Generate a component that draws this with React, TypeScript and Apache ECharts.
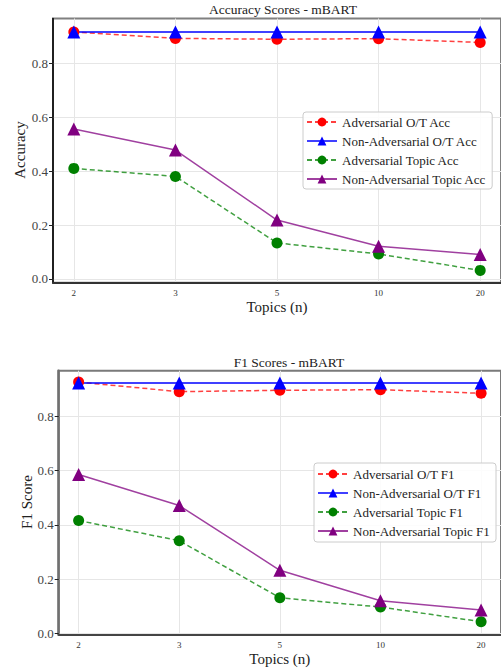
import React, { useEffect, useRef } from "react";
import * as echarts from "echarts";

const topicLabels = ["2", "3", "5", "10", "20"];
const tickValuesY = [0, 0.2, 0.4, 0.6, 0.8];

const accAdvOT = [0.918, 0.894, 0.891, 0.893, 0.879];
const accNonAdvOT = [0.918, 0.918, 0.918, 0.918, 0.918];
const accAdvTopic = [0.411, 0.381, 0.134, 0.093, 0.032];
const accNonAdvTopic = [0.557, 0.479, 0.219, 0.122, 0.091];

const f1AdvOT = [0.925, 0.89, 0.895, 0.897, 0.884];
const f1NonAdvOT = [0.922, 0.922, 0.922, 0.922, 0.922];
const f1AdvTopic = [0.416, 0.342, 0.132, 0.098, 0.044];
const f1NonAdvTopic = [0.585, 0.471, 0.233, 0.121, 0.087];

const FONT = "'Liberation Serif', 'DejaVu Serif', serif";

const toPts = (arr: number[]) => arr.map((v, i) => [i, v]);

function makeSeries(
  name: string,
  data: number[],
  color: string,
  symbol: string,
  dashed: boolean,
  width: number,
  gi: number
) {
  return {
    type: "line",
    name,
    xAxisIndex: gi,
    yAxisIndex: gi,
    data: toPts(data),
    symbol,
    symbolSize: symbol === "circle" ? 11 : 13,
    itemStyle: { color, opacity: 1 },
    lineStyle: { color, width, type: dashed ? [5, 3] : "solid", opacity: 0.75 },
    emphasis: { disabled: true },
    z: 3,
  };
}

export default function App() {
  const ref = useRef<HTMLDivElement>(null);
  useEffect(() => {
    if (!ref.current) return;
    const chart = echarts.init(ref.current, undefined, { renderer: "svg" });

    const xAxisCommon = (gi: number, min: number, max: number, lineColor: string) => ({
      type: "value",
      gridIndex: gi,
      min,
      max,
      name: "Topics (n)",
      nameLocation: "middle",
      nameGap: 17,
      nameTextStyle: { fontFamily: FONT, fontSize: 15, color: "#222" },
      axisLine: { show: true, onZero: false, lineStyle: { color: lineColor, width: 2 } },
      axisTick: { show: false, customValues: [0, 1, 2, 3, 4] },
      axisLabel: {
        customValues: [0, 1, 2, 3, 4],
        formatter: (v: number) => topicLabels[Math.round(v)] ?? "",
        fontFamily: FONT,
        fontSize: 9,
        color: "#333",
        margin: 6,
      },
      splitLine: { show: true, lineStyle: { color: "#e6e6e6", width: 1 } },
    });

    const yAxisCommon = (
      gi: number,
      min: number,
      max: number,
      lineColor: string,
      lineWidth: number
    ) => ({
      type: "value",
      gridIndex: gi,
      min,
      max,
      axisLine: { show: true, onZero: false, lineStyle: { color: lineColor, width: lineWidth } },
      axisTick: {
        show: true,
        length: 4,
        customValues: tickValuesY,
        lineStyle: { color: "#222", width: 1 },
      },
      axisLabel: {
        customValues: tickValuesY,
        formatter: (v: number) => v.toFixed(1),
        fontFamily: FONT,
        fontSize: 13,
        color: "#444",
        margin: 5,
      },
      splitLine: { show: true, lineStyle: { color: "#e6e6e6", width: 1 } },
    });

    const legendCommon = {
      orient: "vertical",
      itemWidth: 30,
      itemHeight: 11,
      itemGap: 5,
      borderColor: "#cccccc",
      borderWidth: 1,
      borderRadius: 3,
      backgroundColor: "rgba(255,255,255,0.85)",
      textStyle: { fontFamily: FONT, fontSize: 13, color: "#222", lineHeight: 14 },
    };

    const yName = (text: string, x: number, y: number) => ({
      type: "text",
      x,
      y,
      rotation: Math.PI / 2,
      style: {
        text,
        fontFamily: FONT,
        fontSize: 15,
        fill: "#222",
        align: "center",
        verticalAlign: "middle",
      },
    });

    chart.setOption({
      animation: false,
      backgroundColor: "#ffffff",
      title: [
        {
          text: "Accuracy Scores - mBART",
          left: 278,
          top: -3,
          textAlign: "center",
          textStyle: { fontFamily: FONT, fontSize: 13.5, fontWeight: "normal", color: "#222" },
        },
        {
          text: "F1 Scores - mBART",
          left: 284,
          top: 350,
          textAlign: "center",
          textStyle: { fontFamily: FONT, fontSize: 13.5, fontWeight: "normal", color: "#222" },
        },
      ],
      graphic: [yName("Accuracy", 20, 150), yName("F1 Score", 27, 502)],
      grid: [
        {
          left: 53,
          top: 18.5,
          width: 452,
          height: 264.2,
          show: true,
          borderColor: "#808080",
          borderWidth: 2,
          backgroundColor: "transparent",
        },
        {
          left: 58.7,
          top: 370.7,
          width: 451,
          height: 263.8,
          show: true,
          borderColor: "#7a7a7a",
          borderWidth: 2,
          backgroundColor: "transparent",
        },
      ],
      xAxis: [
        xAxisCommon(0, -0.205, 4.205, "#333333"),
        xAxisCommon(1, -0.198, 4.198, "#444444"),
      ],
      yAxis: [
        yAxisCommon(0, -0.0138, 0.968, "#000000", 1.5),
        yAxisCommon(1, -0.003, 0.967, "#707070", 2.5),
      ],
      legend: [
        {
          ...legendCommon,
          left: 303,
          top: 112,
          padding: [3, 6, 3, 3],
          data: [
            "Adversarial O/T Acc",
            "Non-Adversarial O/T Acc",
            "Adversarial Topic Acc",
            "Non-Adversarial Topic Acc",
          ],
        },
        {
          ...legendCommon,
          left: 314,
          top: 463,
          padding: [4, 6, 4, 3],
          data: [
            "Adversarial O/T F1",
            "Non-Adversarial O/T F1",
            "Adversarial Topic F1",
            "Non-Adversarial Topic F1",
          ],
        },
      ],
      series: [
        makeSeries("Adversarial O/T Acc", accAdvOT, "#ff0000", "circle", true, 1.5, 0),
        makeSeries("Non-Adversarial O/T Acc", accNonAdvOT, "#0000ff", "triangle", false, 2, 0),
        makeSeries("Adversarial Topic Acc", accAdvTopic, "#008000", "circle", true, 1.5, 0),
        makeSeries("Non-Adversarial Topic Acc", accNonAdvTopic, "#800080", "triangle", false, 1.5, 0),
        makeSeries("Adversarial O/T F1", f1AdvOT, "#ff0000", "circle", true, 1.5, 1),
        makeSeries("Non-Adversarial O/T F1", f1NonAdvOT, "#0000ff", "triangle", false, 2, 1),
        makeSeries("Adversarial Topic F1", f1AdvTopic, "#008000", "circle", true, 1.5, 1),
        makeSeries("Non-Adversarial Topic F1", f1NonAdvTopic, "#800080", "triangle", false, 1.5, 1),
      ],
    });
    return () => chart.dispose();
  }, []);

  return (
    <div
      ref={ref}
      style={{ position: "absolute", left: 0, top: 0, width: 501, height: 671, background: "#fff" }}
    />
  );
}
